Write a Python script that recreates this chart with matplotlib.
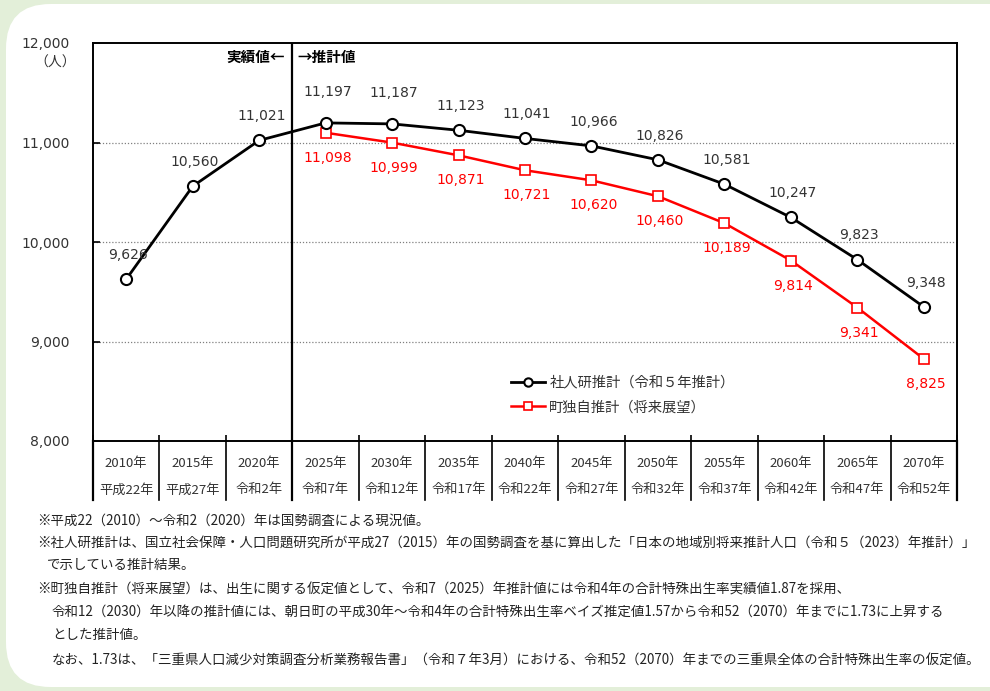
import numpy as np
import matplotlib
matplotlib.use('Agg')
import matplotlib.pyplot as plt
from matplotlib.patches import FancyBboxPatch
import matplotlib.transforms as mtransforms

plt.rcParams['font.family'] = ['Noto Sans CJK JP', 'DejaVu Sans']
NUM_FONT = ['DejaVu Sans', 'Noto Sans CJK JP']

# ============================================================
# データ
# ============================================================
years = ['2010年', '2015年', '2020年', '2025年', '2030年', '2035年', '2040年',
         '2045年', '2050年', '2055年', '2060年', '2065年', '2070年']
eras = ['平成22年', '平成27年', '令和2年', '令和7年', '令和12年', '令和17年', '令和22年',
        '令和27年', '令和32年', '令和37年', '令和42年', '令和47年', '令和52年']
ipss = [9626, 10560, 11021, 11197, 11187, 11123, 11041, 10966, 10826, 10581, 10247, 9823, 9348]
town = [None, None, None, 11098, 10999, 10871, 10721, 10620, 10460, 10189, 9814, 9341, 8825]
yticks = [8000, 9000, 10000, 11000, 12000]

notes = [
    (37, 521, '※平成22（2010）～令和2（2020）年は国勢調査による現況値。'),
    (37, 543, '※社人研推計は、国立社会保障・人口問題研究所が平成27（2015）年の国勢調査を基に算出した「日本の地域別将来推計人口（令和５（2023）年推計）」'),
    (47, 565, 'で示している推計結果。'),
    (37, 590, '※町独自推計（将来展望）は、出生に関する仮定値として、令和7（2025）年推計値には令和4年の合計特殊出生率実績値1.87を採用、'),
    (52, 612, '令和12（2030）年以降の推計値には、朝日町の平成30年～令和4年の合計特殊出生率ベイズ推定値1.57から令和52（2070）年までに1.73に上昇する'),
    (52, 635, 'とした推計値。'),
    (52, 660, 'なお、1.73は、「三重県人口減少対策調査分析業務報告書」（令和７年3月）における、令和52（2070）年までの三重県全体の合計特殊出生率の仮定値。'),
]

W, H = 990, 691
fig = plt.figure(figsize=(W / 100, H / 100), dpi=100)
fig.patch.set_facecolor('#e3efd9')

# 白い角丸の背景
bg = FancyBboxPatch((6 / W, 4 / H), 1.05, 1 - 8 / H,
                    boxstyle='round,pad=0,rounding_size=0.045',
                    transform=fig.transFigure, facecolor='white', edgecolor='none',
                    mutation_aspect=W / H, zorder=-5)
fig.patches.append(bg)

left, right, top, bottom = 93, 957, 43, 441
ax = fig.add_axes([left / W, 1 - bottom / H, (right - left) / W, (bottom - top) / H])
ax.set_facecolor('none')
ax.set_zorder(2)

x = np.arange(len(years))
ax.set_xlim(-0.5, len(years) - 0.5)
ax.set_ylim(8000, 12000)

for yv in [9000, 10000, 11000]:
    ax.axhline(yv, color='#808080', linestyle=(0, (1, 1.5)), linewidth=0.9, zorder=1)

# 実績値／推計値の境界線
ax.axvline(2.5, color='black', linewidth=1.6, zorder=2)
ax.text(2.38, 11860, '実績値←', ha='right', va='center', fontsize=10.5, fontweight='bold')
ax.text(2.58, 11860, '→推計値', ha='left', va='center', fontsize=10.5, fontweight='bold')

# 系列
ax.plot(x, ipss, color='black', linewidth=2.0, marker='o', markersize=8,
        markerfacecolor='white', markeredgecolor='black', markeredgewidth=1.5,
        label='社人研推計（令和５年推計）', zorder=4)
tx = [i for i, v in enumerate(town) if v is not None]
tv = [v for v in town if v is not None]
ax.plot(tx, tv, color='#ff0000', linewidth=1.8, marker='s', markersize=7,
        markerfacecolor='white', markeredgecolor='#ff0000', markeredgewidth=1.2,
        label='町独自推計（将来展望）', zorder=3)

# ラベル（2025・2030 の黒ラベルは赤と重ならないよう少し上げる）
for i, v in enumerate(ipss):
    dy = 22.5 if i in (3, 4) else 17.5
    ax.annotate(f'{v:,}', (i, v), xytext=(1.5, dy), textcoords='offset points',
                ha='center', va='center', fontsize=10, color='#333333', family=NUM_FONT, zorder=5)
for i, v in zip(tx, tv):
    ax.annotate(f'{v:,}', (i, v), xytext=(1.5, -18), textcoords='offset points',
                ha='center', va='center', fontsize=10, color='#ff0000', family=NUM_FONT, zorder=5)

# 軸
for s in ax.spines.values():
    s.set_linewidth(1.4)
ax.set_yticks(yticks)
ax.set_yticklabels([f'{v:,}' for v in yticks], fontsize=10, color='#333333', family=NUM_FONT)
ax.tick_params(axis='y', direction='in', length=5, pad=17, width=1.2)
ax.set_xticks(np.arange(len(years) + 1) - 0.5)
ax.set_xticklabels([])
ax.tick_params(axis='x', direction='in', length=4, width=1.2)
fig.text(76 / W, 1 - 63 / H, '（人）', ha='right', va='center', fontsize=10, color='#333333')

# 下部の表
trans = mtransforms.blended_transform_factory(ax.transData, ax.transAxes)
row_h = (500 - bottom) / (bottom - top)
for b in np.arange(len(years) + 1) - 0.5:
    ax.plot([b, b], [0, -row_h], color='black', linewidth=1.6 if b in (-0.5, 2.5, 12.5) else 1.2,
            transform=trans, clip_on=False)
for i in range(len(years)):
    ax.text(i, -(463 - bottom) / (bottom - top), years[i], transform=trans,
            ha='center', va='center', fontsize=9.5, color='#333333')
    ax.text(i, -(490 - bottom) / (bottom - top), eras[i], transform=trans,
            ha='center', va='center', fontsize=9.5, color='#333333')

leg = ax.legend(loc='upper left', bbox_to_anchor=((505 - left) / (right - left), 1 - (370 - top) / (bottom - top)),
                frameon=False, fontsize=10.3, handlelength=2.4, labelspacing=0.75,
                handletextpad=0.3, borderaxespad=0, markerscale=0.75)
for t in leg.get_texts():
    t.set_color('#333333')

for nx, ny, s in notes:
    fig.text(nx / W, 1 - ny / H, s, ha='left', va='center', fontsize=9.7, color='#222222')

fig.savefig('out.png', dpi=100)
